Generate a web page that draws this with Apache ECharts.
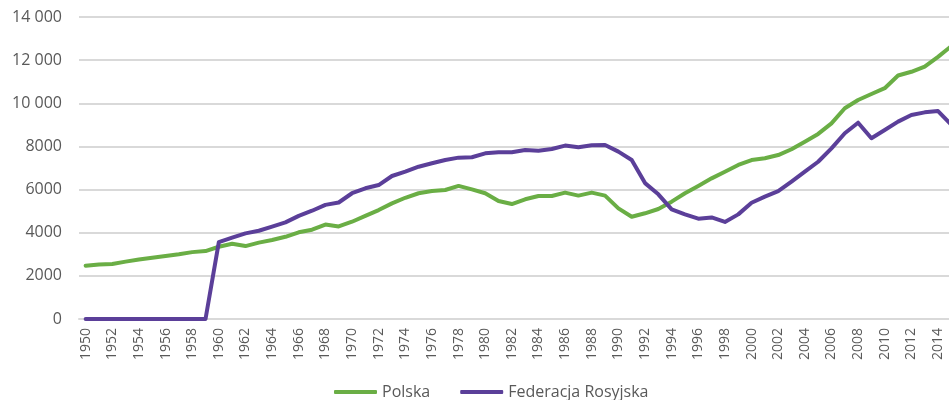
<!DOCTYPE html>
<html>
<head>
<meta charset="utf-8">
<script src="https://cdn.jsdelivr.net/npm/echarts@6/dist/echarts.min.js"></script>
<style>
  html, body { margin: 0; padding: 0; background: #fff; }
  #chart { width: 949px; height: 400px; }
</style>
</head>
<body>
<div id="chart"></div>
<script>
const years = [];
for (let y = 1950; y <= 2015; y++) years.push(String(y));

const polska = [
  2470, 2530, 2550, 2660, 2760, 2840, 2920, 3000, 3100, 3150,
  3350, 3490, 3380, 3540, 3660, 3810, 4020, 4140, 4380, 4290,
  4510, 4780, 5050, 5360, 5620, 5830, 5930, 5980, 6170, 6010,
  5830, 5470, 5330, 5550, 5700, 5700, 5860, 5720, 5860, 5720,
  5130, 4740, 4900, 5100, 5440, 5830, 6170, 6520, 6830, 7140,
  7370, 7450, 7600, 7870, 8220, 8580, 9070, 9770, 10150, 10430,
  10700, 11290, 11460, 11700, 12150, 12650
];

const rosja = [
  0, 0, 0, 0, 0, 0, 0, 0, 0, 0,
  3560, 3770, 3970, 4090, 4280, 4480, 4780, 5020, 5290, 5400,
  5830, 6060, 6210, 6630, 6830, 7060, 7220, 7370, 7480, 7500,
  7680, 7730, 7730, 7830, 7800, 7880, 8040, 7960, 8050, 8070,
  7760, 7370, 6300, 5780, 5080, 4850, 4650, 4710, 4500, 4850,
  5390, 5670, 5930, 6370, 6830, 7290, 7910, 8610, 9100, 8380,
  8760, 9150, 9460, 9580, 9640, 9000
];

const seriesNames = ["Polska", "Federacja Rosyjska"];

const chart = echarts.init(document.getElementById("chart"));

// 14 000 ze spacją, 8000 bez
const fmt = (v) => (v >= 10000 ? String(v).replace(/(\d)(?=(\d{3})+$)/g, "$1 ") : String(v));

const option = {
  animation: false,
  textStyle: { fontFamily: "Open Sans" },
  // wykres przycięty z prawej strony (ostatni rok poza kadrem)
  grid: { left: 79, top: 17, bottom: 81, width: 879, outerBoundsMode: "none", containLabel: false },
  legend: {
    data: seriesNames,
    left: 329,
    top: 379,
    icon: "roundRect",
    itemWidth: 43,
    itemHeight: 4,
    itemGap: 30,
    textStyle: { color: "#595959", fontSize: 16, fontFamily: "Open Sans", padding: [4, 0, 0, 0] },
  },
  xAxis: {
    type: "category",
    data: years,
    boundaryGap: true,
    axisLine: { lineStyle: { color: "#d9d9d9", width: 2 } },
    axisTick: { show: false },
    axisLabel: {
      interval: 1,
      rotate: 90,
      margin: 9,
      color: "#595959",
      fontSize: 14,
      fontFamily: "Open Sans",
    },
  },
  yAxis: {
    type: "value",
    min: 0,
    max: 14000,
    interval: 2000,
    axisLine: { show: false },
    axisTick: { show: false },
    splitLine: { lineStyle: { color: "#d9d9d9", width: 2 } },
    axisLabel: {
      margin: 17,
      color: "#595959",
      fontSize: 16,
      fontFamily: "Open Sans",
      formatter: fmt,
    },
  },
  series: [
    {
      name: seriesNames[0],
      type: "line",
      data: polska,
      symbol: "none",
      itemStyle: { color: "#6AAE45" },
      lineStyle: { color: "#6AAE45", width: 4, cap: "round", join: "round" },
    },
    {
      name: seriesNames[1],
      type: "line",
      data: rosja,
      symbol: "none",
      itemStyle: { color: "#5B3F99" },
      lineStyle: { color: "#5B3F99", width: 4, cap: "round", join: "round" },
    },
  ],
};

chart.setOption(option);
</script>
</body>
</html>
